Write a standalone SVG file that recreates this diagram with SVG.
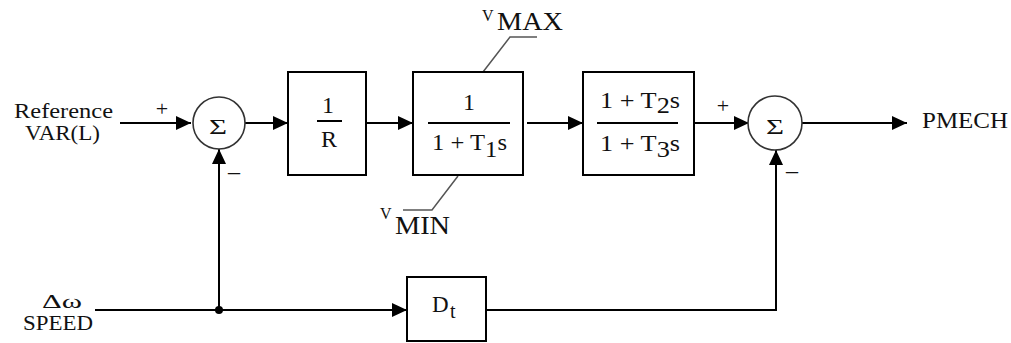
<svg xmlns="http://www.w3.org/2000/svg" width="1011" height="343" viewBox="0 0 1011 343">
<defs>
<style>
.blk{fill:none;stroke:#000;stroke-width:2;}
.sum{fill:#fff;stroke:#333;stroke-width:1.6;}
.wire{fill:none;stroke:#000;stroke-width:2;}
.lead{fill:none;stroke:#555;stroke-width:1.5;}
</style>
<marker id="ah" markerUnits="userSpaceOnUse" markerWidth="16" markerHeight="14" refX="15" refY="7" orient="auto">
<path d="M0,0 L15,7 L0,14 Z" fill="#000"/>
</marker>
</defs>
<rect width="1011" height="343" fill="#fff"/>

<g id="connectors">
<path class="wire" d="M120,123 H191" marker-end="url(#ah)"/>
<path class="wire" d="M245,123 H288" marker-end="url(#ah)"/>
<path class="wire" d="M366,123 H413" marker-end="url(#ah)"/>
<path class="wire" d="M527,123 H583" marker-end="url(#ah)"/>
<path class="wire" d="M694,123 H749" marker-end="url(#ah)"/>
<path class="wire" d="M802,123 H907" marker-end="url(#ah)"/>
<path class="wire" d="M95,310 H407" marker-end="url(#ah)"/>
<path class="wire" d="M219,310 V149" marker-end="url(#ah)"/>
<path class="wire" d="M486,310 H776 V150" marker-end="url(#ah)"/>
<circle cx="219" cy="310" r="4" fill="#000"/>
<path class="lead" d="M483,72 L510,37 H537"/>
<path class="lead" d="M458,176 L432,210 H403"/>
</g>

<g id="input-ref" font-family="Liberation Serif" fill="#111">
<text x="14" y="118" font-size="21" textLength="99" lengthAdjust="spacingAndGlyphs">Reference</text>
<text x="25" y="140" font-size="21" textLength="75" lengthAdjust="spacingAndGlyphs">VAR(L)</text>
</g>

<g id="sum1" font-family="Liberation Serif" fill="#111">
<circle class="sum" cx="219" cy="123" r="26"/>
<text x="209" y="134" font-size="22" textLength="18" lengthAdjust="spacingAndGlyphs">Σ</text>
<text x="162" y="116" font-size="22" text-anchor="middle">+</text>
<text x="234" y="179" font-size="24" text-anchor="middle">–</text>
</g>

<g id="block-R" font-family="Liberation Serif" fill="#111">
<rect class="blk" x="288" y="72" width="78" height="103"/>
<text x="328" y="113" font-size="24" text-anchor="middle">1</text>
<path class="wire" d="M317,121 H342"/>
<text x="329" y="147" font-size="24" text-anchor="middle">R</text>
</g>

<g id="block-T1" font-family="Liberation Serif" fill="#111">
<rect class="blk" x="413" y="72" width="110" height="103"/>
<text x="469" y="110" font-size="24" text-anchor="middle">1</text>
<path class="wire" d="M428,123 H510"/>
<text x="432" y="150" font-size="24" textLength="75" lengthAdjust="spacingAndGlyphs">1 + T<tspan dy="7">1</tspan><tspan dy="-7">s</tspan></text>
</g>

<g id="vmax" font-family="Liberation Serif" fill="#111">
<text x="482" y="21" font-size="16">V</text>
<text x="497" y="30" font-size="26" textLength="66" lengthAdjust="spacingAndGlyphs">MAX</text>
</g>

<g id="vmin" font-family="Liberation Serif" fill="#111">
<text x="380" y="219" font-size="16">V</text>
<text x="395" y="234" font-size="26" textLength="55" lengthAdjust="spacingAndGlyphs">MIN</text>
</g>

<g id="block-T2T3" font-family="Liberation Serif" fill="#111">
<rect class="blk" x="583" y="72" width="111" height="103"/>
<text x="600" y="108" font-size="24" textLength="80" lengthAdjust="spacingAndGlyphs">1 + T<tspan dy="5">2</tspan><tspan dy="-5">s</tspan></text>
<path class="wire" d="M597,123 H678"/>
<text x="600" y="151" font-size="24" textLength="80" lengthAdjust="spacingAndGlyphs">1 + T<tspan dy="6">3</tspan><tspan dy="-6">s</tspan></text>
</g>

<g id="sum2" font-family="Liberation Serif" fill="#111">
<circle class="sum" cx="775" cy="123" r="27"/>
<text x="766" y="134" font-size="22" textLength="18" lengthAdjust="spacingAndGlyphs">Σ</text>
<text x="723" y="113" font-size="22" text-anchor="middle">+</text>
<text x="792" y="178" font-size="24" text-anchor="middle">–</text>
</g>

<g id="output" font-family="Liberation Serif" fill="#111">
<text x="922" y="128" font-size="24" textLength="86" lengthAdjust="spacingAndGlyphs">PMECH</text>
</g>

<g id="input-speed" font-family="Liberation Serif" fill="#111">
<text x="42" y="308" font-size="19" textLength="40" lengthAdjust="spacingAndGlyphs">Δω</text>
<text x="23" y="330" font-size="22" textLength="70" lengthAdjust="spacingAndGlyphs">SPEED</text>
</g>

<g id="block-Dt" font-family="Liberation Serif" fill="#111">
<rect class="blk" x="407" y="277" width="79" height="64"/>
<text x="432" y="312" font-size="23">D<tspan x="450" y="318" font-size="20">t</tspan></text>
</g>
</svg>
